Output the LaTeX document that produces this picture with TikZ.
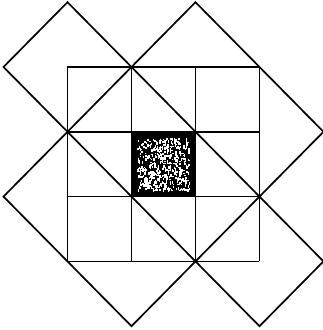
\documentclass[tikz,border=0pt]{standalone}
\begin{document}
\begin{tikzpicture}[x=64pt,y=-64.8pt,
  edge/.style={line width=1.7pt,line join=miter},
  gridline/.style={line width=1.7pt}]
\useasboundingbox[fill=white] (-1.0547,-1.034) rectangle (3.992,4.059);
% grid
\foreach \k in {0,...,3}{
  \draw[gridline] (\k,0) -- (\k,3);
  \draw[gridline] (0,\k) -- (3,\k);
}
% centre cell
\fill[black] (1,1) rectangle (2,2);
\pgfmathsetseed{7}
\foreach \i in {1,...,480}{
  \pgfmathsetmacro\a{1.09+0.81*rnd}
  \pgfmathsetmacro\b{1.09+0.81*rnd}
  \pgfmathsetmacro\w{0.01+0.022*rnd}
  \pgfmathsetmacro\h{0.015+0.035*rnd}
  \fill[white] (\a,\b) rectangle ++(\w,\h);
}
\draw[gridline] (1,1) rectangle (2,2);
% named corners
\coordinate (A1) at (0,-1); \coordinate (A2) at (1,0); \coordinate (A3) at (0,1); \coordinate (A4) at (-1,0);
\coordinate (B1) at (1,0); \coordinate (B2) at (2,-1); \coordinate (B3) at (4,1); \coordinate (B4) at (3,2);
\coordinate (C1) at (3,2); \coordinate (C2) at (4,3); \coordinate (C3) at (3,4); \coordinate (C4) at (2,3);
\coordinate (D1) at (0,1); \coordinate (D2) at (2,3); \coordinate (D3) at (1,4); \coordinate (D4) at (-1,2);
\draw[edge] (A1) -- (A2) -- (A3) -- (A4) -- cycle;
\draw[edge] (B1) -- (B2) -- (B3) -- (B4) -- cycle;
\draw[edge] (C1) -- (C2) -- (C3) -- (C4) -- cycle;
\draw[edge] (D1) -- (D2) -- (D3) -- (D4) -- cycle;
\end{tikzpicture}
\end{document}
